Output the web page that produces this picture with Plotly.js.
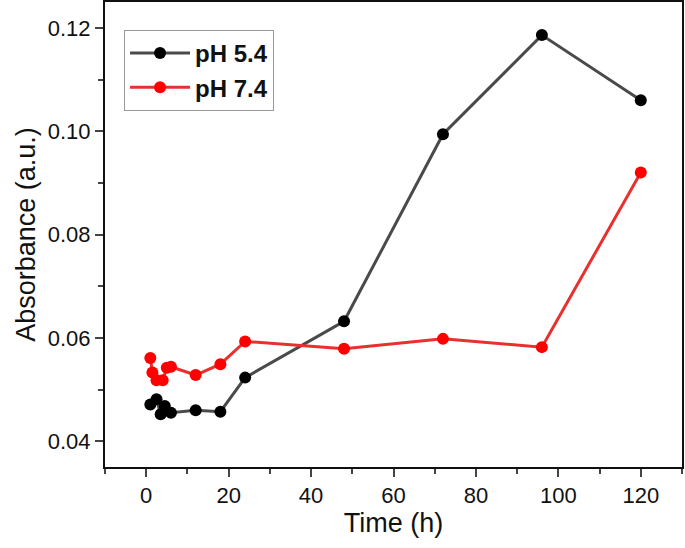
<!DOCTYPE html>
<html>
<head>
<meta charset="utf-8">
<script src="https://cdn.plot.ly/plotly-3.0.1.min.js"></script>
<style>
  body { margin: 0; background: #fff; }
  #chart { width: 685px; height: 548px; }
</style>
</head>
<body>
<div id="chart"></div>
<script>
// values
const timeAcid = [1, 2.5, 3.5, 4.5, 6, 12, 18, 24, 48, 72, 96, 120];
const absAcid = [0.0471, 0.0481, 0.0452, 0.0468, 0.0455, 0.0460, 0.0457, 0.0523, 0.0632, 0.0994, 0.1186, 0.1060];

const timeNeutral = [1, 1.5, 2.5, 4, 5, 6, 12, 18, 24, 48, 72, 96, 120];
const absNeutral = [0.0561, 0.0533, 0.0518, 0.0518, 0.0542, 0.0544, 0.0528, 0.0549, 0.0593, 0.0579, 0.0598, 0.0582, 0.0920];

const seriesNames = ["pH 5.4", "pH 7.4"];

const traces = [
  {
    x: timeAcid,
    y: absAcid,
    name: seriesNames[0],
    type: "scatter",
    mode: "lines+markers",
    line: { color: "#4a4a4a", width: 3 },
    marker: { color: "#000000", size: 12 },
  },
  {
    x: timeNeutral,
    y: absNeutral,
    name: seriesNames[1],
    type: "scatter",
    mode: "lines+markers",
    line: { color: "#e8302e", width: 3 },
    marker: { color: "#ff0000", size: 12 },
  },
];

const fam = "Liberation Sans, Arial, sans-serif";
const axisFont = { family: fam, size: 22, color: "#111" };
const titleFont = { family: fam, size: 27, color: "#111" };

const layout = {
  width: 685,
  height: 548,
  margin: { l: 105, r: 3, t: 2, b: 81 },
  paper_bgcolor: "#fff",
  plot_bgcolor: "#fff",
  showlegend: true,
  legend: {
    x: 0.033,
    y: 0.94,
    xanchor: "left",
    yanchor: "top",
    bordercolor: "#999",
    borderwidth: 1,
    itemwidth: 60,
    tracegroupgap: 0,
    font: { family: fam, size: 24, color: "#111", weight: "bold" },
  },
  xaxis: {
    range: [-10, 130],
    tickvals: [0, 20, 40, 60, 80, 100, 120],
    ticks: "outside",
    ticklen: 8,
    tickwidth: 2,
    minor: { dtick: 10, ticks: "outside", ticklen: 5, tickwidth: 2 },
    showline: true,
    linewidth: 2,
    linecolor: "#111",
    mirror: true,
    showgrid: false,
    zeroline: false,
    tickfont: axisFont,
    title: { text: "Time (h)", font: titleFont, standoff: 6 },
  },
  yaxis: {
    range: [0.035, 0.125],
    tickvals: [0.04, 0.06, 0.08, 0.1, 0.12],
    ticktext: ["0.04", "0.06", "0.08", "0.10", "0.12"],
    ticks: "outside",
    ticklen: 8,
    tickwidth: 2,
    minor: { dtick: 0.01, ticks: "outside", ticklen: 5, tickwidth: 2 },
    showline: true,
    linewidth: 2,
    linecolor: "#111",
    mirror: true,
    showgrid: false,
    zeroline: false,
    tickfont: axisFont,
    title: { text: "Absorbance (a.u.)", font: titleFont, standoff: 4 },
  },
};

Plotly.newPlot("chart", traces, layout, { displayModeBar: false, staticPlot: true });
</script>
</body>
</html>
